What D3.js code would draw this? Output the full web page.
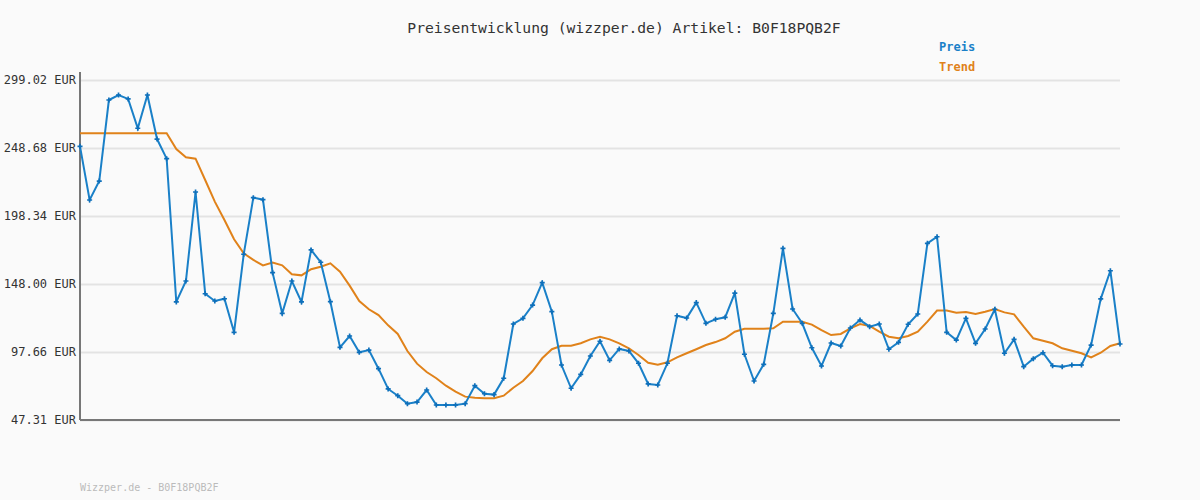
<!DOCTYPE html>
<html><head><meta charset="utf-8">
<script src="https://cdn.jsdelivr.net/npm/d3@7"></script>
<style>body{margin:0;background:#fafafa}</style>
</head><body><svg id="canvas"></svg>
<script>
const price = [249.9,210.2,224.2,284.2,287.9,285,263.3,287.9,255.3,240.8,134.7,150.2,216.1,140.8,135.4,137.1,112.2,170,211.9,210.4,
156.4,126.3,150.2,134.7,173.2,164.1,134.9,101.1,109.5,97.4,99.1,85.3,70.3,65.3,59.4,60.6,69.5,58.4,58.4,58.4,
59.4,72.7,66.8,66.1,78.2,118.4,122.6,132.4,149,127.5,88,70.8,81.1,94.7,105.6,91.5,99.9,98.4,89.3,74,
73.2,89.3,124.5,122.8,134.2,118.9,121.9,123.3,141.3,96,76.2,88.5,126.3,174.4,129.5,118.9,100.8,87.3,104.3,102.1,
115.4,121.3,116.4,118.4,99.7,104.8,118.2,125.8,178.1,183,112.2,106.5,122.6,104.1,114.7,129.3,96.7,107,86.8,92.7,
97.1,87.5,86.8,88,88,102.8,137,157.8,103.6]
const trend = [259.6,259.6,259.6,259.6,259.6,259.6,259.6,259.6,259.6,259.6,247.9,241.8,240.8,225,209,195.4,181.1,170.7,165.8,161.8,
163.8,161.8,155.2,154.4,158.9,160.8,163.3,157.1,146.8,135.4,129.3,125,117.4,111,98.4,89,82.8,78.2,72.7,68.3,
64.6,63.8,63.4,63.4,65.3,71.2,76.2,83.6,93,99.7,102.3,102.3,104.1,107,109,107,104.1,100.4,95.4,89.7,
88.3,90,93.7,96.7,99.7,102.8,105,107.8,112.7,114.9,114.9,114.9,115.2,120.1,120.1,120.1,117.9,113.9,110.2,111,
115.2,118.4,116.9,112.7,109,107.8,109.5,112.7,120.1,128.3,128.3,126.8,127.3,125.8,127.5,129.5,127,125.5,116.4,107.8,
106,104.1,100.4,98.6,96.7,93.7,97.1,102.1,104.1]
const yTicks = [47.31,97.66,148.00,198.34,248.68,299.02]
const title = "Preisentwicklung (wizzper.de) Artikel: B0F18PQB2F"
const footer = "Wizzper.de - B0F18PQB2F"

const width = 1200, height = 500
const margin = {top: 80, right: 80, bottom: 80, left: 80}
const mono = "'DejaVu Sans Mono', monospace"

let canvas = d3.select("#canvas").attr('width', width).attr('height', height)
canvas.append('rect').attr('width', width).attr('height', height).attr('fill', '#fafafa')

let xScale = d3.scaleLinear().domain([0, price.length - 1]).range([margin.left, width - margin.right])
let yScale = d3.scaleLinear().domain([47.31, 299.02]).range([height - margin.bottom, margin.top])

// grid + y labels
let yAxis = d3.axisLeft(yScale).tickValues(yTicks)
    .tickFormat(d => d.toFixed(2) + ' EUR')
    .tickSize(-(width - margin.left - margin.right)).tickPadding(4)
let g = canvas.append('g').attr('transform', `translate(${margin.left},0)`).call(yAxis)
g.select('.domain').remove()
g.selectAll('line').attr('stroke', '#e3e3e3').attr('stroke-width', 2)
g.selectAll('text').attr('font-family', mono).attr('font-size', 12).attr('fill', '#333')

// axis lines
canvas.append('line').attr('x1', margin.left).attr('x2', margin.left)
    .attr('y1', margin.top - 8).attr('y2', height - margin.bottom).attr('stroke', '#777').attr('stroke-width', 2)
canvas.append('line').attr('x1', margin.left).attr('x2', width - margin.right)
    .attr('y1', height - margin.bottom).attr('y2', height - margin.bottom).attr('stroke', '#777').attr('stroke-width', 2)

let line = d3.line().x((d, i) => xScale(i)).y(d => yScale(d))
canvas.append('path').datum(trend).attr('d', line).attr('fill', 'none')
    .attr('stroke', '#e0821a').attr('stroke-width', 2)
canvas.append('path').datum(price).attr('d', line).attr('fill', 'none')
    .attr('stroke', '#1a80c8').attr('stroke-width', 2)
canvas.selectAll('.pt').data(price).enter().append('path').attr('class', 'pt')
    .attr('d', d3.symbol(d3.symbolCross, 14))
    .attr('transform', (d, i) => `translate(${xScale(i)},${yScale(d)})`)
    .attr('fill', '#0e6fba')

canvas.append('text').attr('x', 624).attr('y', 33).attr('text-anchor', 'middle')
    .attr('font-family', mono).attr('font-size', 14.7).attr('fill', '#333').text(title)
canvas.append('text').attr('x', 939).attr('y', 51).attr('font-family', mono).attr('font-size', 12)
    .attr('font-weight', 'bold').attr('fill', '#1a80c8').text('Preis')
canvas.append('text').attr('x', 939).attr('y', 71).attr('font-family', mono).attr('font-size', 12)
    .attr('font-weight', 'bold').attr('fill', '#e0821a').text('Trend')
canvas.append('text').attr('x', 80).attr('y', 491).attr('font-family', mono).attr('font-size', 10)
    .attr('fill', '#bbb').text(footer)
</script></body></html>
